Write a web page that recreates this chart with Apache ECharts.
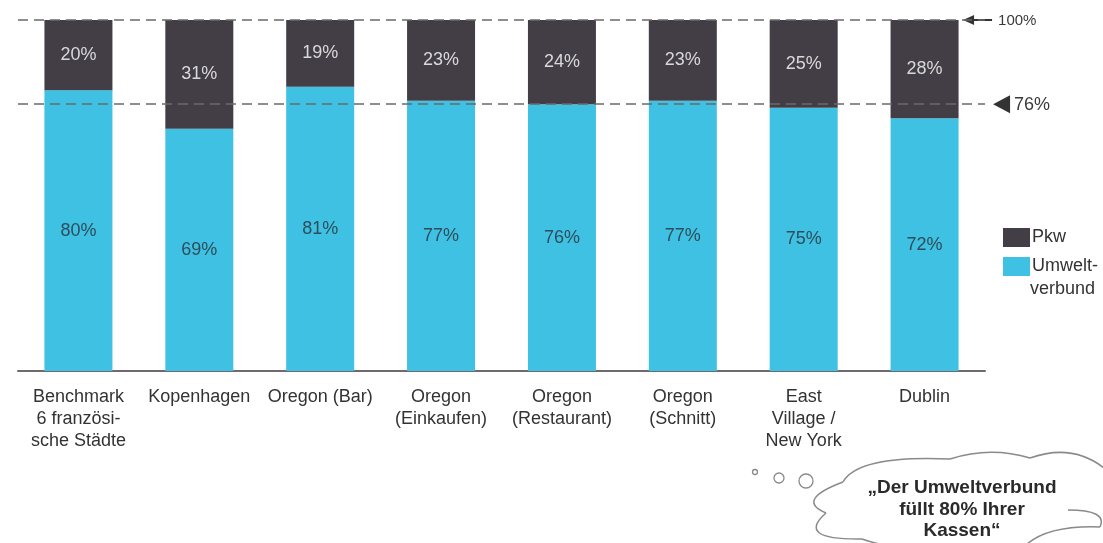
<!DOCTYPE html>
<html>
<head>
<meta charset="utf-8">
<script src="https://cdn.jsdelivr.net/npm/echarts@6/dist/echarts.min.js"></script>
<style>
  html, body { margin: 0; padding: 0; background: #ffffff; }
  #chart { width: 1103px; height: 543px; }
</style>
</head>
<body>
<div id="chart"></div>
<script>
// Modal split by location: share of sustainable modes vs. car
const categories = [
  'Benchmark\n6 französi-\nsche Städte',
  'Kopenhagen',
  'Oregon (Bar)',
  'Oregon\n(Einkaufen)',
  'Oregon\n(Restaurant)',
  'Oregon\n(Schnitt)',
  'East\nVillage /\nNew York',
  'Dublin'
];
const umweltverbund = [80, 69, 81, 77, 76, 77, 75, 72];
const pkw = [20, 31, 19, 23, 24, 23, 25, 28];
const refLines = [100, 76];
const refLabels = ['100%', '76%'];
const cloudLines = ['„Der Umweltverbund', 'füllt 80% Ihrer', 'Kassen“'];

const FONT = 'Liberation Sans, Arial, Helvetica, sans-serif';
const CYAN = '#3ec1e3';
const DARK = '#433e46';

const chart = echarts.init(document.getElementById('chart'), null, { renderer: 'canvas' });

const option = {
  backgroundColor: '#ffffff',
  animation: false,
  grid: { left: 18, right: 118, top: 20, bottom: 172 },
  legend: {
    data: ['Pkw', 'Umweltverbund'],
    orient: 'vertical',
    left: 998,
    top: 223,
    itemWidth: 27,
    itemHeight: 19,
    itemGap: 10,
    icon: 'rect',
    selectedMode: false,
    formatter: function (name) { return name === 'Umweltverbund' ? 'Umwelt-' : name; },
    textStyle: { fontFamily: FONT, fontSize: 18, color: '#333333', padding: [0, 0, 0, -3] }
  },
  xAxis: {
    type: 'category',
    data: categories,
    axisLine: { show: true, lineStyle: { color: '#6e6a6e', width: 2 } },
    axisTick: { show: false },
    axisLabel: {
      interval: 0,
      margin: 15,
      fontFamily: FONT,
      fontSize: 18,
      lineHeight: 22,
      color: '#333333'
    }
  },
  yAxis: {
    type: 'value',
    min: 0,
    max: 100,
    show: false,
    splitLine: { show: false }
  },
  series: [
    {
      name: 'Umweltverbund',
      type: 'bar',
      stack: 'modal',
      barWidth: 68,
      data: umweltverbund,
      itemStyle: { color: CYAN },
      label: {
        show: true,
        position: 'inside',
        formatter: '{c}%',
        fontFamily: FONT,
        fontSize: 18,
        color: '#2f4d5a'
      }
    },
    {
      name: 'Pkw',
      type: 'bar',
      stack: 'modal',
      barWidth: 68,
      data: pkw,
      itemStyle: { color: DARK },
      label: {
        show: true,
        position: 'inside',
        formatter: '{c}%',
        fontFamily: FONT,
        fontSize: 18,
        color: '#d9d9d9'
      },
      markLine: {
        silent: true,
        symbol: ['none', 'none'],
        label: { show: false },
        lineStyle: { color: '#6a6a6a', width: 1.5, type: [10, 6] },
        data: refLines.map(v => ({ yAxis: v }))
      },
      z: 3
    }
  ]
};

chart.setOption(option);

// Reference markers beside the dashed lines, plus the thought cloud
function drawAnnotations() {
  const xEnd = chart.convertToPixel({ xAxisIndex: 0 }, categories[categories.length - 1]) + 121 / 2;
  const y100 = chart.convertToPixel({ yAxisIndex: 0 }, refLines[0]);
  const y76 = chart.convertToPixel({ yAxisIndex: 0 }, refLines[1]);

  const stroke = { fill: 'none', stroke: '#8a8a8a', lineWidth: 1.5 };
  const curve = (x1, y1, cx, cy, x2, y2) => ({
    type: 'bezierCurve',
    shape: { x1: x1, y1: y1, cpx1: cx, cpy1: cy, x2: x2, y2: y2 },
    style: stroke
  });

  const graphics = [
    // arrow pointing at the 100 % line
    {
      type: 'line',
      shape: { x1: xEnd - 18, y1: y100, x2: xEnd + 7, y2: y100 },
      style: { stroke: '#333333', lineWidth: 2 }
    },
    {
      type: 'polygon',
      shape: { points: [[xEnd - 22, y100], [xEnd - 11, y100 - 5], [xEnd - 11, y100 + 5]] },
      style: { fill: '#333333' }
    },
    {
      type: 'text',
      x: xEnd + 13, y: y100 + 1,
      style: {
        text: refLabels[0], fontFamily: FONT, fontSize: 15, fill: '#3a3a3a',
        verticalAlign: 'middle', align: 'left'
      }
    },
    // triangle marker at the 76 % line
    {
      type: 'polygon',
      shape: { points: [[xEnd + 8, y76], [xEnd + 25, y76 - 9], [xEnd + 25, y76 + 9]] },
      style: { fill: '#333333' }
    },
    {
      type: 'text',
      x: xEnd + 29, y: y76 + 1,
      style: {
        text: refLabels[1], fontFamily: FONT, fontSize: 18, fill: '#3a3a3a',
        verticalAlign: 'middle', align: 'left'
      }
    },
    // second line of the legend label
    {
      type: 'text',
      x: 1030, y: 289,
      style: {
        text: 'verbund', fontFamily: FONT, fontSize: 18, fill: '#333333',
        verticalAlign: 'middle', align: 'left'
      }
    },
    // thought bubbles
    { type: 'circle', shape: { cx: 755, cy: 472, r: 2.5 }, style: { fill: 'none', stroke: '#8a8a8a', lineWidth: 1.3 } },
    { type: 'circle', shape: { cx: 779, cy: 478, r: 5 }, style: { fill: 'none', stroke: '#8a8a8a', lineWidth: 1.3 } },
    { type: 'circle', shape: { cx: 806, cy: 481, r: 7 }, style: { fill: 'none', stroke: '#8a8a8a', lineWidth: 1.3 } },
    // cloud outline
    curve(843, 482, 858, 455, 950, 459),
    curve(950, 459, 990, 446, 1030, 458),
    curve(1030, 458, 1072, 443, 1104, 468),
    curve(843, 482, 795, 500, 826, 513),
    curve(826, 513, 795, 540, 862, 539),
    curve(862, 539, 882, 546, 905, 548),
    curve(1068, 510, 1108, 510, 1100, 527),
    curve(1100, 527, 1050, 525, 1027, 544)
  ];

  cloudLines.forEach((t, i) => {
    graphics.push({
      type: 'text',
      x: 962, y: 488 + i * 21.5,
      style: {
        text: t, fontFamily: FONT, fontSize: 19, fontWeight: 'bold', fill: '#2a2a2a',
        align: 'center', verticalAlign: 'middle'
      }
    });
  });

  chart.setOption({ graphic: graphics });
}

drawAnnotations();
</script>
</body>
</html>
